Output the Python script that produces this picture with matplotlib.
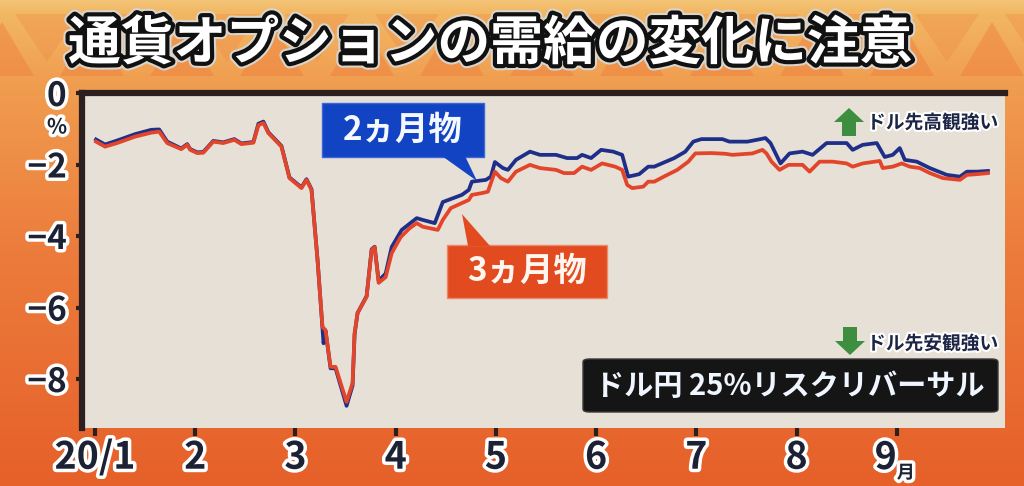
import numpy as np
import matplotlib
matplotlib.use('Agg')
import matplotlib.pyplot as plt
import matplotlib.patheffects as pe
import matplotlib.transforms as mtransforms
from matplotlib.patches import Polygon, Rectangle, FancyBboxPatch

plt.rcParams['font.family'] = ['Noto Sans CJK JP', 'DejaVu Sans']
plt.rcParams['font.weight'] = 'bold'

title = '通貨オプションの需給の変化に注意'
series_label = 'ドル円 25%リスクリバーサル'
label_2m = '2ヵ月物'
label_3m = '3ヵ月物'
note_up = 'ドル先高観強い'
note_down = 'ドル先安観強い'

month_ticks = [1, 2, 3, 4, 5, 6, 7, 8, 9]
month_labels = ['20/1', '2', '3', '4', '5', '6', '7', '8', '']
y_ticks = [0, -2, -4, -6, -8]
y_labels = ['0', '−2', '−4', '−6', '−8']

# 3ヵ月物 (x = 月の位置, y = %)
m3_x = [1.01, 1.10, 1.22, 1.40, 1.56, 1.64, 1.72, 1.86, 1.92, 1.95,
        2.02, 2.08, 2.18, 2.28, 2.39, 2.46, 2.58, 2.63, 2.68, 2.73,
        2.86, 2.94, 3.06, 3.11, 3.16, 3.22, 3.27, 3.30, 3.35, 3.40,
        3.45, 3.51, 3.57, 3.59, 3.62, 3.71, 3.76, 3.79, 3.83, 3.90,
        3.96, 4.05, 4.14, 4.21, 4.27, 4.42, 4.47, 4.55, 4.66, 4.73,
        4.76, 4.86, 4.92, 4.99, 5.05, 5.12, 5.20, 5.34, 5.44, 5.60,
        5.68, 5.78, 5.86, 5.95, 6.06, 6.19, 6.26, 6.31, 6.36, 6.47,
        6.52, 6.58, 6.71, 6.81, 6.92, 6.99, 7.15, 7.29, 7.36, 7.46,
        7.56, 7.66, 7.70, 7.75, 7.83, 7.92, 8.06, 8.13, 8.23, 8.36,
        8.50, 8.56, 8.66, 8.83, 8.86, 8.96, 9.05, 9.13, 9.23, 9.33,
        9.46, 9.63, 9.70, 9.80, 9.91]
m3_y = [-1.36, -1.50, -1.40, -1.22, -1.11, -1.08, -1.40, -1.57, -1.45, -1.59,
        -1.68, -1.67, -1.36, -1.40, -1.31, -1.43, -1.39, -0.90, -0.84, -1.12,
        -1.50, -2.38, -2.66, -2.43, -2.71, -4.67, -6.55, -6.63, -7.66, -7.66,
        -8.11, -8.64, -8.11, -6.71, -6.15, -5.70, -4.39, -4.31, -5.31, -5.15,
        -4.48, -4.03, -3.78, -3.64, -3.74, -3.83, -3.55, -3.22, -3.08, -2.99,
        -2.85, -2.80, -2.76, -2.20, -2.38, -2.48, -2.20, -2.01, -2.10, -2.15,
        -2.24, -2.24, -2.06, -2.15, -1.97, -2.06, -2.15, -2.57, -2.66, -2.62,
        -2.48, -2.48, -2.29, -2.15, -1.92, -1.69, -1.68, -1.70, -1.73, -1.71,
        -1.69, -1.59, -1.69, -1.92, -2.15, -2.01, -2.01, -2.20, -1.92, -1.92,
        -1.97, -2.06, -1.97, -1.90, -2.10, -2.06, -1.97, -2.06, -2.10, -2.24,
        -2.38, -2.43, -2.29, -2.27, -2.24]

# 2ヵ月物
m2_x = [1.01, 1.10, 1.22, 1.40, 1.56, 1.64, 1.72, 1.86, 1.92, 1.95,
        2.02, 2.08, 2.18, 2.28, 2.39, 2.46, 2.58, 2.63, 2.68, 2.73,
        2.86, 2.94, 3.06, 3.11, 3.16, 3.22, 3.27, 3.28, 3.30, 3.35,
        3.40, 3.45, 3.51, 3.57, 3.59, 3.62, 3.71, 3.76, 3.79, 3.83,
        3.90, 3.96, 4.06, 4.21, 4.27, 4.39, 4.47, 4.66, 4.73, 4.76,
        4.90, 4.95, 4.99, 5.07, 5.12, 5.20, 5.34, 5.44, 5.60, 5.71,
        5.81, 5.86, 5.95, 6.05, 6.17, 6.26, 6.32, 6.43, 6.52, 6.58,
        6.78, 6.89, 6.97, 7.05, 7.26, 7.33, 7.51, 7.64, 7.69, 7.74,
        7.84, 7.93, 8.06, 8.16, 8.30, 8.50, 8.56, 8.66, 8.80, 8.88,
        8.96, 9.03, 9.08, 9.20, 9.33, 9.50, 9.63, 9.70, 9.80, 9.91]
m2_y = [-1.30, -1.44, -1.33, -1.15, -1.03, -1.02, -1.36, -1.55, -1.43, -1.57,
        -1.66, -1.65, -1.34, -1.38, -1.29, -1.41, -1.37, -0.86, -0.80, -1.10,
        -1.48, -2.36, -2.64, -2.41, -2.69, -4.65, -6.60, -7.00, -6.65, -7.70,
        -7.70, -8.18, -8.75, -8.18, -6.75, -6.15, -5.68, -4.37, -4.30, -5.25,
        -5.05, -4.31, -3.83, -3.50, -3.55, -3.64, -3.05, -2.85, -2.71, -2.48,
        -2.43, -2.34, -1.93, -2.10, -2.15, -1.87, -1.64, -1.73, -1.73, -1.82,
        -1.82, -1.73, -1.82, -1.59, -1.64, -1.73, -2.34, -2.27, -2.06, -2.06,
        -1.82, -1.64, -1.36, -1.29, -1.29, -1.36, -1.36, -1.29, -1.26, -1.40,
        -1.97, -1.69, -1.64, -1.73, -1.40, -1.40, -1.59, -1.45, -1.40, -1.79,
        -1.73, -1.54, -1.87, -1.92, -2.10, -2.29, -2.34, -2.20, -2.20, -2.18]

W, H = 1024, 486
def fx(x):
    return x / W
def fy(y):
    return 1 - y / H

navy = '#1c2233'
outline = [pe.withStroke(linewidth=5, foreground='white')]

fig = plt.figure(figsize=(W / 100, H / 100), dpi=100)

# 背景のグラデーション
bg = fig.add_axes([0, 0, 1, 1], zorder=-10)
bg.axis('off')
rows = np.arange(H)
stops_y = [0, 12, 80, 250, 486]
stops_c = np.array([[244, 198, 122], [242, 184, 100], [240, 158, 80],
                    [236, 124, 60], [230, 96, 42]]) / 255
grad = np.stack([np.interp(rows, stops_y, stops_c[:, k]) for k in range(3)], axis=1)
bg.imshow(grad[:, None, :], aspect='auto', extent=[0, 1, 0, 1])
bg.set_xlim(0, 1)
bg.set_ylim(0, 1)

# タイトル帯の三角模様
for i in range(13):
    x0 = i * 90 - 30
    up = Polygon([(fx(x0), fy(76)), (fx(x0 + 64), fy(76)), (fx(x0 + 32), fy(22))],
                 closed=True, fc='#ee7d3c', ec='none', alpha=0.45,
                 transform=fig.transFigure)
    dn = Polygon([(fx(x0 + 45), fy(14)), (fx(x0 + 109), fy(14)), (fx(x0 + 77), fy(62))],
                 closed=True, fc='#f08a44', ec='none', alpha=0.35,
                 transform=fig.transFigure)
    fig.patches.extend([up, dn])

fig.text(fx(490), fy(44), title, fontsize=38, color='white', ha='center', va='center',
         path_effects=[pe.Stroke(linewidth=9, foreground='#d9d4cc'),
                       pe.Stroke(linewidth=6, foreground='#111111'), pe.Normal()])

# グラフ本体
ax = fig.add_axes([fx(82), fy(428), (1005 - 82) / W, (428 - 93) / H])
ax.set_facecolor('#e6e0d7')
ax.plot(m2_x, m2_y, color='#1f2f88', lw=2.7, solid_joinstyle='round', zorder=3)
ax.plot(m3_x, m3_y, color='#e2452a', lw=2.7, solid_joinstyle='round', zorder=4)

ax.set_xlim(0.87, 10.08)
ax.set_ylim(-9.37, 0)
ax.set_xticks(month_ticks)
ax.set_xticklabels(month_labels)
ax.set_yticks(y_ticks)
ax.set_yticklabels(y_labels)

for s in ['right', 'bottom']:
    ax.spines[s].set_visible(False)
for s in ['left', 'top']:
    ax.spines[s].set_linewidth(4.5)
    ax.spines[s].set_color('#2b1f1f')

ax.tick_params(axis='x', direction='out', length=6, width=3, color='#2b1f1f',
               pad=1, labelsize=27, labelcolor=navy)
ax.tick_params(axis='y', direction='out', length=4, width=3, color='#2b1f1f',
               pad=7, labelsize=24, labelcolor=navy)
for lbl in ax.get_xticklabels() + ax.get_yticklabels():
    lbl.set_path_effects(outline)

# 9月 のラベル
xlab = mtransforms.blended_transform_factory(ax.transData, ax.transAxes)
ax.text(9, -0.03, '9', transform=xlab, fontsize=27, color=navy, ha='right', va='top',
        path_effects=outline, clip_on=False)
ax.text(9, -0.105, '月', transform=xlab, fontsize=13, color=navy, ha='left', va='top',
        path_effects=outline, clip_on=False)

fig.text(fx(57), fy(127), '%', fontsize=15, color=navy, ha='center', va='center',
         path_effects=outline)

# 吹き出し
blue_box = Rectangle((fx(322), fy(157)), (484 - 322) / W, (157 - 103) / H,
                     fc='#1243c2', ec='#3a66d8', lw=1, transform=fig.transFigure, zorder=5)
blue_tail = Polygon([(fx(442), fy(156)), (fx(465), fy(156)), (fx(477), fy(181))],
                    closed=True, fc='#1243c2', ec='none', transform=fig.transFigure, zorder=5)
red_box = Rectangle((fx(447), fy(298)), (607 - 447) / W, (298 - 245) / H,
                    fc='#e24a20', ec='#f08a66', lw=1, transform=fig.transFigure, zorder=5)
red_tail = Polygon([(fx(468), fy(246)), (fx(490), fy(246)), (fx(462), fy(214))],
                   closed=True, fc='#e24a20', ec='none', transform=fig.transFigure, zorder=5)
black_box = FancyBboxPatch((fx(583), fy(412)), (998 - 583) / W, (412 - 359) / H,
                           boxstyle='round,pad=0,rounding_size=0.006',
                           fc='#151515', ec='#3a3a3a', lw=1, transform=fig.transFigure, zorder=5)
fig.patches.extend([blue_box, blue_tail, red_box, red_tail, black_box])

fig.text(fx(403), fy(130), label_2m, fontsize=24, color='#f4f8ff', ha='center', va='center', zorder=6)
fig.text(fx(527), fy(271), label_3m, fontsize=24, color='#fff6f0', ha='center', va='center', zorder=6)
fig.text(fx(790), fy(386), series_label, fontsize=21, color='#f0f6ff', ha='center', va='center', zorder=6)

# 緑の矢印と注記
green = '#3e8e40'
arrow_up = Polygon([(fx(849), fy(108)), (fx(864), fy(122)), (fx(856), fy(122)),
                    (fx(856), fy(136)), (fx(842), fy(136)), (fx(842), fy(122)),
                    (fx(834), fy(122))], closed=True, fc=green, ec='none',
                   transform=fig.transFigure, zorder=5)
arrow_dn = Polygon([(fx(850), fy(355)), (fx(865), fy(341)), (fx(857), fy(341)),
                    (fx(857), fy(327)), (fx(843), fy(327)), (fx(843), fy(341)),
                    (fx(835), fy(341))], closed=True, fc=green, ec='none',
                   transform=fig.transFigure, zorder=5)
fig.patches.extend([arrow_up, arrow_dn])
fig.text(fx(867), fy(123), note_up, fontsize=13.5, color='#1c2545', ha='left', va='center',
         path_effects=[pe.withStroke(linewidth=3, foreground='white')])
fig.text(fx(867), fy(344), note_down, fontsize=13.5, color='#1c2545', ha='left', va='center',
         path_effects=[pe.withStroke(linewidth=3, foreground='white')])

fig.savefig('out.png', dpi=100)
